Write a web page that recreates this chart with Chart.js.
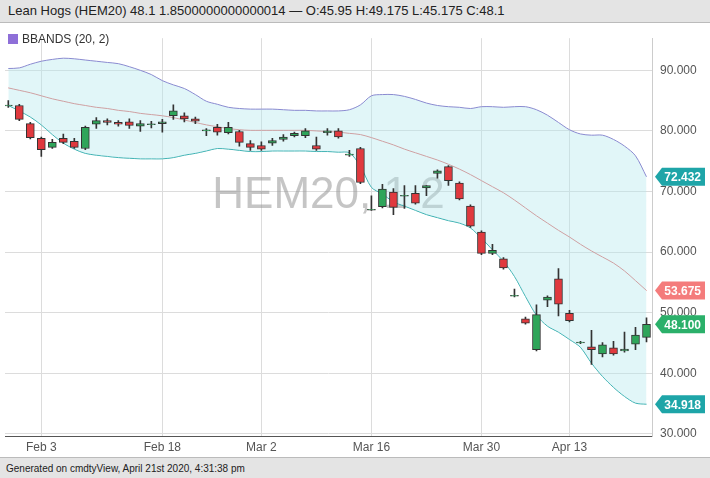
<!DOCTYPE html>
<html>
<head>
<meta charset="utf-8">
<script src="https://cdn.jsdelivr.net/npm/chart.js@4/dist/chart.umd.min.js"></script>
<style>
  body { margin: 0; width: 710px; height: 478px; background: #e4e4e4; font-family: "Liberation Sans", Arial, sans-serif; position: relative; overflow: hidden; }
  #title { position: absolute; left: 8px; top: 3px; font-size: 13px; color: #222; }
  #box { position: absolute; left: 0; top: 22px; width: 710px; height: 436px; background: #fff; border-top: 1px solid #bbb; border-bottom: 1px solid #bbb; box-sizing: border-box; }
  #legend { position: absolute; left: 8px; top: 32px; font-size: 12px; color: #333; z-index: 2; }
  #legend span { display: inline-block; width: 10px; height: 10px; background: #8e6fd8; margin-right: 4px; vertical-align: -1px; }
  #foot { position: absolute; left: 6px; top: 463px; font-size: 10px; color: #222; }
</style>
</head>
<body>
<div id="title">Lean Hogs (HEM20) 48.1 1.8500000000000014 — O:45.95 H:49.175 L:45.175 C:48.1</div>
<div id="box"><canvas id="chart" width="710" height="436"></canvas></div>
<div id="legend"><span></span>BBANDS (20, 2)</div>
<div id="foot">Generated on cmdtyView, April 21st 2020, 4:31:38 pm</div>
<script>
const opens  = [84.2,84.2,81.2,78.8,77.3,78.8,78.3,77.1,81.1,81.7,81.4,81.5,80.8,81.1,81.2,82.5,82.5,82.0,80.1,80.6,79.7,79.9,77.9,77.6,78.0,78.6,79.2,79.2,77.6,79.7,80.0,76.1,77.1,67.0,67.5,69.9,69.3,69.7,70.6,73.0,74.1,71.4,67.6,63.3,59.8,58.9,52.8,49.0,43.9,52.1,55.6,49.9,45.1,44.4,43.2,44.2,43.7,44.8,45.95];
const highs  = [85.0,84.4,81.4,79.0,78.6,79.5,78.8,80.8,82.2,82.0,81.7,82.0,81.7,81.6,81.9,84.3,83.0,82.3,80.4,81.1,81.4,80.1,78.4,78.2,78.8,79.4,79.8,80.4,79.0,80.4,80.4,76.8,77.3,69.3,71.2,70.5,71.0,71.0,71.0,73.6,74.3,71.6,67.8,63.5,61.3,59.1,53.9,49.3,51.3,52.8,57.3,50.4,45.3,47.1,45.1,45.3,46.8,47.6,49.175];
const lows   = [83.9,81.7,78.7,75.8,77.1,77.9,77.1,76.9,80.4,81.0,80.8,80.4,79.9,80.5,79.8,81.9,81.5,81.2,79.2,79.3,79.5,77.5,76.8,76.8,77.6,78.3,79.0,78.9,76.8,79.3,78.8,75.8,71.3,66.9,67.3,66.2,67.2,67.9,69.3,72.2,71.0,68.6,64.1,59.6,59.6,57.2,52.6,48.1,43.7,51.0,49.5,48.5,44.9,41.5,42.7,43.0,43.5,43.9,45.175];
const closes = [84.2,81.9,78.9,76.9,78.1,78.1,77.3,80.6,81.7,81.4,81.1,80.9,81.2,81.1,81.5,83.3,82.0,81.6,80.1,79.8,80.6,78.1,77.3,77.0,78.4,79.0,79.6,80.0,77.0,80.0,79.0,76.1,71.5,67.0,70.4,67.4,69.3,68.1,71.0,73.4,71.8,68.8,64.3,59.8,60.3,57.4,52.8,48.3,49.7,52.6,51.4,48.7,45.1,43.9,44.7,43.2,44.0,46.3,48.1];
const upperBand = [90.3,90.4,91.0,91.5,91.8,92.0,91.9,91.7,91.5,91.3,91.1,90.6,90.0,89.3,88.3,87.6,87.0,86.0,84.9,84.4,83.9,83.7,83.6,83.6,83.6,83.5,83.4,83.4,83.3,83.3,83.3,83.5,84.3,85.8,86.0,86.0,85.7,85.2,84.6,84.2,84.0,83.9,83.7,84.0,84.0,83.9,84.0,84.0,83.5,82.6,81.4,80.2,79.5,79.3,79.3,78.6,77.5,75.9,72.432];
const middleBand = [87.1,86.7,86.3,85.8,85.3,84.9,84.5,84.2,83.9,83.7,83.4,83.2,82.9,82.7,82.5,82.2,81.8,81.4,81.0,80.7,80.4,80.2,80.1,80.1,80.1,80.1,80.1,80.1,80.0,79.9,79.8,79.6,79.4,78.9,78.3,77.7,77.0,76.4,75.8,75.2,74.5,73.7,72.8,71.8,70.8,69.8,68.6,67.3,66.0,64.8,63.6,62.5,61.3,60.2,59.2,58.2,56.9,55.3,53.675];
const lowerBand = [84.2,83.3,82.3,81.0,79.4,78.0,77.0,76.3,76.0,75.8,75.6,75.5,75.4,75.4,75.4,75.6,76.0,76.3,76.7,77.1,77.0,76.8,76.6,76.6,76.7,76.7,76.7,76.7,76.6,76.6,76.5,76.4,74.2,70.7,69.6,68.3,67.6,66.9,66.2,65.7,65.2,64.8,64.0,62.3,60.4,58.5,56.0,52.7,49.6,47.8,46.8,45.6,44.3,41.7,39.5,37.7,36.2,35.1,34.918];
const dateTicks = [3, 14, 23, 33, 43, 51];
const dateLabels = ["Feb 3", "Feb 18", "Mar 2", "Mar 16", "Mar 30", "Apr 13"];
const priceTicks = [30, 40, 50, 60, 70, 80, 90];

const UP = '#2fa55a', DOWN = '#e0393e', EDGE = '#333';
const n = closes.length;
const bodies = opens.map((o, i) => {
  const c = closes[i];
  return Math.abs(o - c) < 0.15 ? { x: i, y: [o - 0.08, o + 0.08] } : { x: i, y: [o, c] };
});
const wicks = opens.map((o, i) => ({ x: i, y: [lows[i], highs[i]] }));
const colors = opens.map((o, i) => closes[i] >= o ? UP : DOWN);
const line = arr => arr.map((v, i) => ({ x: i, y: v }));

const watermark = {
  id: 'watermark',
  beforeDatasetsDraw(chart) {
    const { ctx, chartArea } = chart;
    ctx.save();
    ctx.font = '44px "Liberation Sans", Arial, sans-serif';
    ctx.fillStyle = 'rgba(150,150,150,0.55)';
    ctx.textAlign = 'center';
    ctx.textBaseline = 'middle';
    ctx.fillText('HEM20, 1 2', (chartArea.left + chartArea.right) / 2, 173);
    ctx.restore();
  }
};

const badges = {
  id: 'badges',
  afterDraw(chart) {
    const { ctx, scales } = chart;
    const items = [
      [upperBand[n - 1], '#1ea5a8'],
      [middleBand[n - 1], '#f47c7c'],
      [closes[n - 1], '#2bb06a'],
      [lowerBand[n - 1], '#1ea5a8']
    ];
    ctx.save();
    ctx.font = 'bold 12px "Liberation Sans", Arial, sans-serif';
    ctx.textBaseline = 'middle';
    items.forEach(([v, col]) => {
      const y = scales.y.getPixelForValue(v);
      const x0 = chart.chartArea.right + 3, x1 = 705;
      ctx.fillStyle = col;
      ctx.beginPath();
      ctx.moveTo(x0, y);
      ctx.lineTo(x0 + 7, y - 9);
      ctx.lineTo(x1, y - 9);
      ctx.lineTo(x1, y + 9);
      ctx.lineTo(x0 + 7, y + 9);
      ctx.closePath();
      ctx.fill();
      ctx.fillStyle = '#fff';
      ctx.textAlign = 'right';
      ctx.fillText(v.toFixed(3), x1 - 4, y + 1);
    });
    ctx.restore();
  }
};

new Chart(document.getElementById('chart'), {
  type: 'bar',
  data: {
    datasets: [
      { type: 'line', data: line(upperBand), borderColor: '#8a8ad0', borderWidth: 1, pointRadius: 0, fill: '+2', backgroundColor: 'rgba(180,232,238,0.4)', tension: 0.3, order: 2 },
      { type: 'line', data: line(middleBand), borderColor: '#e07070', borderWidth: 1, pointRadius: 0, fill: false, tension: 0.3, order: 2 },
      { type: 'line', data: line(lowerBand), borderColor: '#2aa8a8', borderWidth: 1, pointRadius: 0, fill: false, tension: 0.3, order: 2 },
      { data: wicks, backgroundColor: EDGE, barThickness: 1, grouped: false, order: 1 },
      { data: bodies, backgroundColor: colors, borderColor: EDGE, borderWidth: 1, borderSkipped: false, barThickness: 8, grouped: false, order: 0 }
    ]
  },
  options: {
    responsive: false,
    animation: false,
    layout: { padding: { left: 5, top: 0, right: 4, bottom: 0 } },
    plugins: { legend: { display: false }, tooltip: { enabled: false } },
    scales: {
      x: {
        type: 'linear', min: -0.3, max: 58.5, offset: false,
        afterBuildTicks: s => { s.ticks = dateTicks.map(v => ({ value: v })); },
        afterFit: s => { s.height = 23; },
        ticks: { callback: (v) => dateLabels[dateTicks.indexOf(v)] || '', color: '#555', font: { size: 12, family: '"Liberation Sans", Arial' }, maxRotation: 0, padding: 4 },
        grid: { color: '#dcdcdc', drawTicks: false, offset: false },
        border: { color: '#555' }
      },
      y: {
        position: 'right', min: 29.67, max: 95.3,
        afterBuildTicks: s => { s.ticks = priceTicks.map(v => ({ value: v })); },
        afterFit: s => { s.width = 54; },
        ticks: { callback: v => v.toFixed(3), color: '#555', font: { size: 12, family: '"Liberation Sans", Arial' }, padding: 8 },
        grid: { color: '#dcdcdc', drawTicks: false },
        border: { color: '#ccc' }
      }
    }
  },
  plugins: [watermark, badges]
});
</script>
</body>
</html>
